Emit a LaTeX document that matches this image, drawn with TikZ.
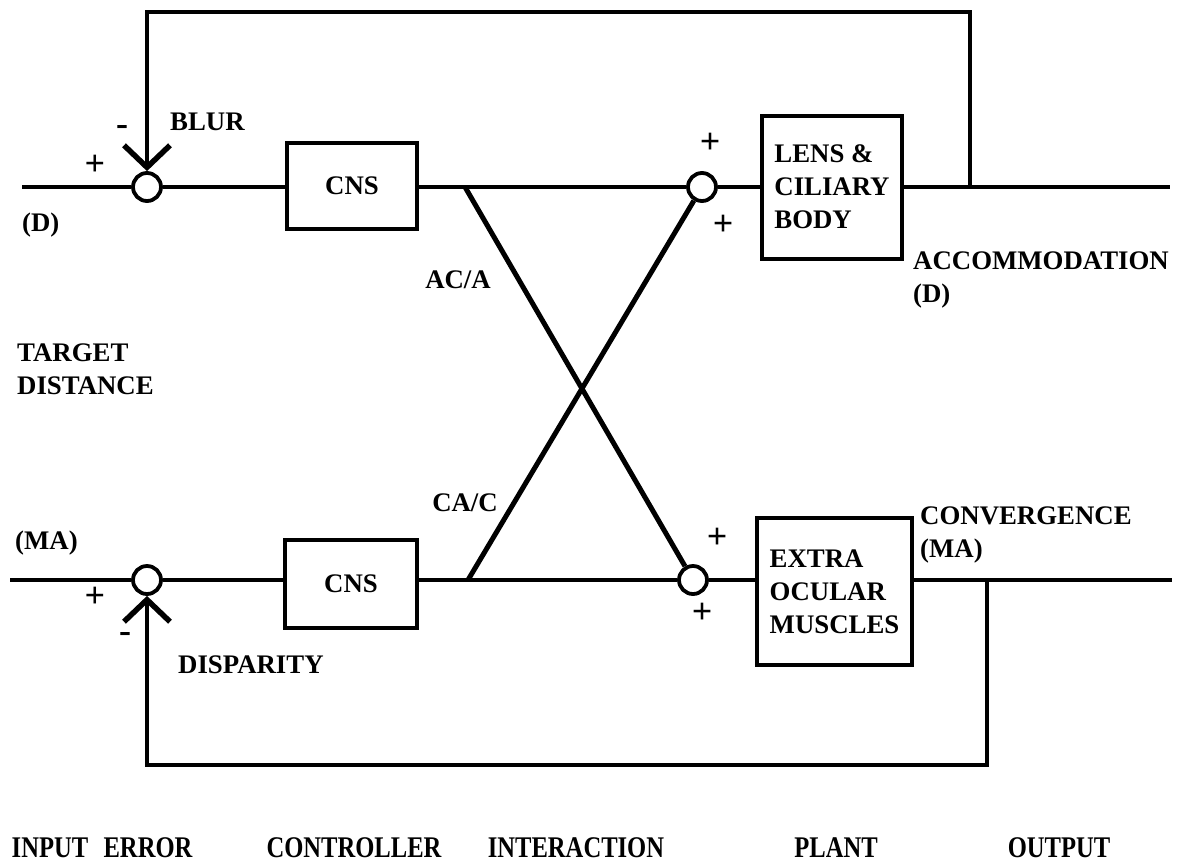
\documentclass[tikz,border=0pt]{standalone}
\usepackage{fontspec}
\setmainfont{Liberation Serif}
\usetikzlibrary{arrows.meta}
\newcommand\lblfont{\fontsize{26.8}{33}\selectfont\bfseries}
\newcommand\signfont{\fontsize{36}{36}\selectfont\bfseries}
\newcommand\stagefont{\fontsize{30}{30}\selectfont\bfseries}
\newcommand\stage[1]{\scalebox{0.82}[1]{#1}}
\begin{document}
\begin{tikzpicture}[x=1pt,y=-1pt,
  wire/.style={line width=4pt},
  xline/.style={line width=5pt},
  blk/.style={draw,line width=4pt,inner sep=0pt,align=left,font=\lblfont},
  sum/.style={draw,circle,line width=3.8pt,minimum size=28pt,inner sep=0pt},
  lbl/.style={font=\lblfont,inner sep=0pt,align=left},
  sign/.style={font=\signfont,inner sep=0pt},
  stg/.style={font=\stagefont,inner sep=0pt},
  fbarrow/.style={-{Straight Barb[length=22pt,width=46pt,line width=5.5pt]}}
]
\useasboundingbox (0,0) rectangle (1184,863);

% summing junctions
\node[sum] (sumA) at (147,187) {};
\node[sum] (sumB) at (147,580) {};
\node[sum] (sumC) at (702,187) {};
\node[sum] (sumD) at (693,580) {};

% blocks
\node[blk,minimum width=130pt,minimum height=86pt] (cnsA) at (352,186) {CNS};
\node[blk,minimum width=132pt,minimum height=88pt] (cnsB) at (351,584) {CNS};
\node[blk,minimum width=140pt,minimum height=143pt] (lens) at (832,187) {LENS \&\\CILIARY\\BODY};
\node[blk,minimum width=155pt,minimum height=147pt] (eom) at (834.5,591.5) {EXTRA\\OCULAR\\MUSCLES};

% free ends
\coordinate (inA) at (22,187);
\coordinate (outA) at (1170,187);
\coordinate (inB) at (10,580);
\coordinate (outB) at (1172,580);
\coordinate (tapA) at (970,187);
\coordinate (tapB) at (987,580);
\coordinate (pA) at (465,187);
\coordinate (pB) at (468,580);

% forward paths
\draw[wire] (inA) -- (sumA) -- (sumA -| cnsA.west);
\draw[wire] (sumA -| cnsA.east) -- (sumC);
\draw[wire] (sumC) -- (sumC -| lens.west);
\draw[wire] (sumC -| lens.east) -- (outA);
\draw[wire] (inB) -- (sumB) -- (sumB -| cnsB.west);
\draw[wire] (sumB -| cnsB.east) -- (sumD);
\draw[wire] (sumD) -- (sumD -| eom.west);
\draw[wire] (sumD -| eom.east) -- (outB);

% cross coupling
\draw[xline] (pA) -- (sumD);
\draw[xline] (pB) -- (sumC);

% feedback loops
\draw[wire,fbarrow] (tapA) -- (970,12) -| (sumA.north);
\draw[wire,fbarrow] (tapB) -- (987,765) -| (sumB.south);

% labels
\node[lbl,anchor=west] (blur) at (170,122) {BLUR};
\node[sign] (mA) at (122,130) {-};
\node[sign] (pAsign) at (95,165) {+};
\node[lbl,anchor=west] (dA) at (22,225) {(D)};
\node[lbl,anchor=west] (target) at (17,369) {TARGET\\DISTANCE};
\node[lbl,anchor=west] (maB) at (15,543) {(MA)};
\node[sign] (pBsign) at (95,597) {+};
\node[sign] (mB) at (125,637) {-};
\node[lbl,anchor=west] (disp) at (178,665) {DISPARITY};
\node[lbl] (aca) at (458,280) {AC/A};
\node[lbl] (cac) at (465,503) {CA/C};
\node[sign] (pC1) at (710,143) {+};
\node[sign] (pC2) at (723,225) {+};
\node[sign] (pD1) at (717,538) {+};
\node[sign] (pD2) at (702,613) {+};
\node[lbl,anchor=west] (acc) at (913,279.5) {ACCOMMODATION\\(D)};
\node[lbl,anchor=west] (conv) at (920,535) {CONVERGENCE\\(MA)};

% stage labels
\node[stg] (s1) at (50,848) {\stage{INPUT}};
\node[stg] (s2) at (148,848) {\stage{ERROR}};
\node[stg] (s3) at (354,848) {\stage{CONTROLLER}};
\node[stg] (s4) at (576,848) {\stage{INTERACTION}};
\node[stg] (s5) at (836,848) {\stage{PLANT}};
\node[stg] (s6) at (1059,848) {\stage{OUTPUT}};
\end{tikzpicture}
\end{document}
